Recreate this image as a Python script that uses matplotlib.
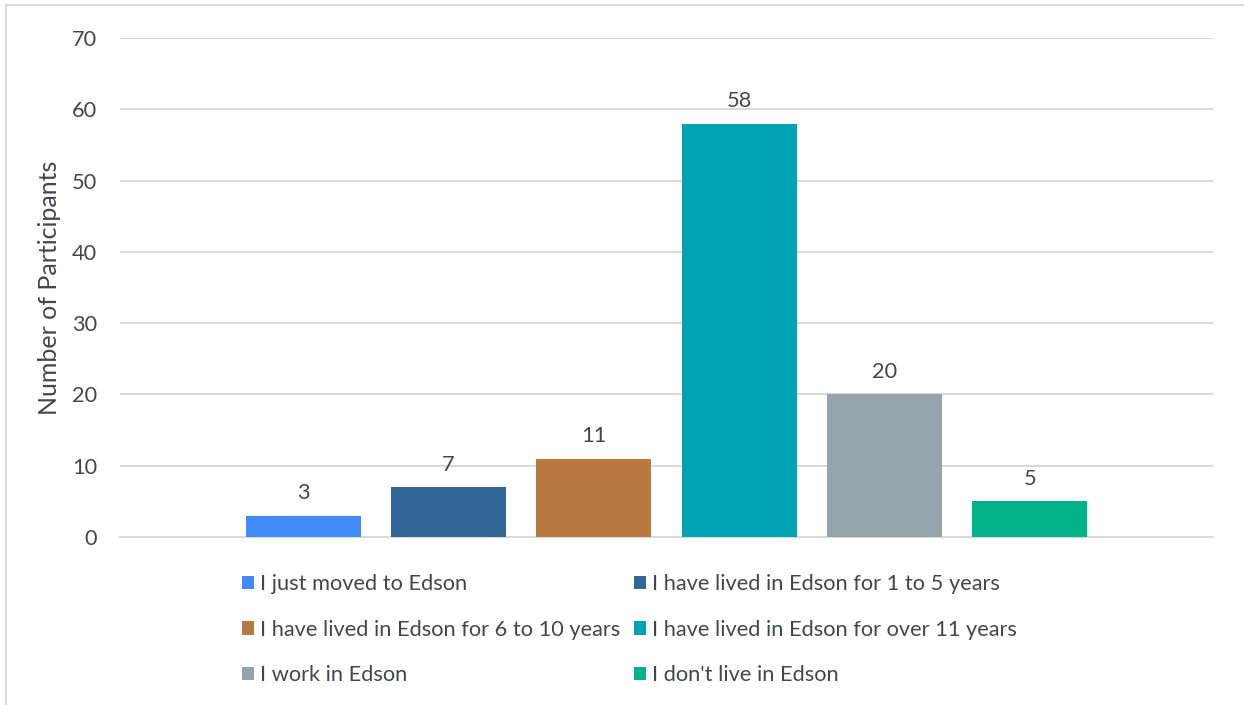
import matplotlib
matplotlib.use("Agg")
import matplotlib.pyplot as plt
from matplotlib.lines import Line2D

categories = [
    "I just moved to Edson",
    "I have lived in Edson for 1 to 5 years",
    "I have lived in Edson for 6 to 10 years",
    "I have lived in Edson for over 11 years",
    "I work in Edson",
    "I don't live in Edson",
]
values = [3, 7, 11, 58, 20, 5]
colors = ["#428AF5", "#336699", "#B7793F", "#00A3B4", "#95A3AB", "#00B386"]
y_ticks = [0, 10, 20, 30, 40, 50, 60, 70]

plt.rcParams["font.family"] = ["Lato", "DejaVu Sans"]
text_color = "#45454F"
grid_color = "#D9D9D9"
fs = 15.7

W, H = 1244, 705
fig = plt.figure(figsize=(W / 100, H / 100), dpi=100)

# outer chart frame (left and top edges visible)
fig.add_artist(Line2D([6 / W, 6 / W], [0, 1 - 5 / H], color=grid_color, lw=1.5,
                      transform=fig.transFigure))
fig.add_artist(Line2D([6 / W, 1], [1 - 5 / H, 1 - 5 / H], color=grid_color, lw=1.5,
                      transform=fig.transFigure))

ax = fig.add_axes([120 / W, 1 - 537 / H, 1093 / W, 499 / H])

step = 0.133
width = 0.1052
bars = []
for i, (lab, v, c) in enumerate(zip(categories, values, colors)):
    b = ax.bar((i - 2.5) * step, v, width=width, color=c, label=lab, zorder=3)
    bars.append(b)
    ax.bar_label(b, labels=[str(v)], padding=9, fontsize=fs, color=text_color)

ax.set_xlim(-0.5, 0.5)
ax.set_ylim(0, 70)
ax.set_yticks(y_ticks)
ax.set_xticks([])
ax.yaxis.grid(True, color=grid_color, lw=1.5, zorder=0)
ax.set_axisbelow(True)
for s in ["top", "right", "left"]:
    ax.spines[s].set_visible(False)
ax.spines["bottom"].set_color(grid_color)
ax.spines["bottom"].set_linewidth(1.5)
ax.tick_params(axis="y", length=0, pad=16.5, labelsize=fs, labelcolor=text_color)
ax.set_ylabel("Number of Participants", fontsize=18, color=text_color, labelpad=8)

# legend filled row by row in two columns
order = [0, 2, 4, 1, 3, 5]
leg = fig.legend(
    handles=[bars[i][0] for i in order],
    labels=[categories[i] for i in order],
    loc="upper left",
    bbox_to_anchor=(242 / W, 1 - 574 / H),
    ncol=2,
    frameon=False,
    fontsize=fs,
    handlelength=0.55,
    handleheight=0.55,
    handletextpad=0.28,
    columnspacing=0.64,
    labelspacing=1.18,
    borderpad=0,
    borderaxespad=0,
)
for t in leg.get_texts():
    t.set_color(text_color)

fig.savefig("out.png", dpi=100)
